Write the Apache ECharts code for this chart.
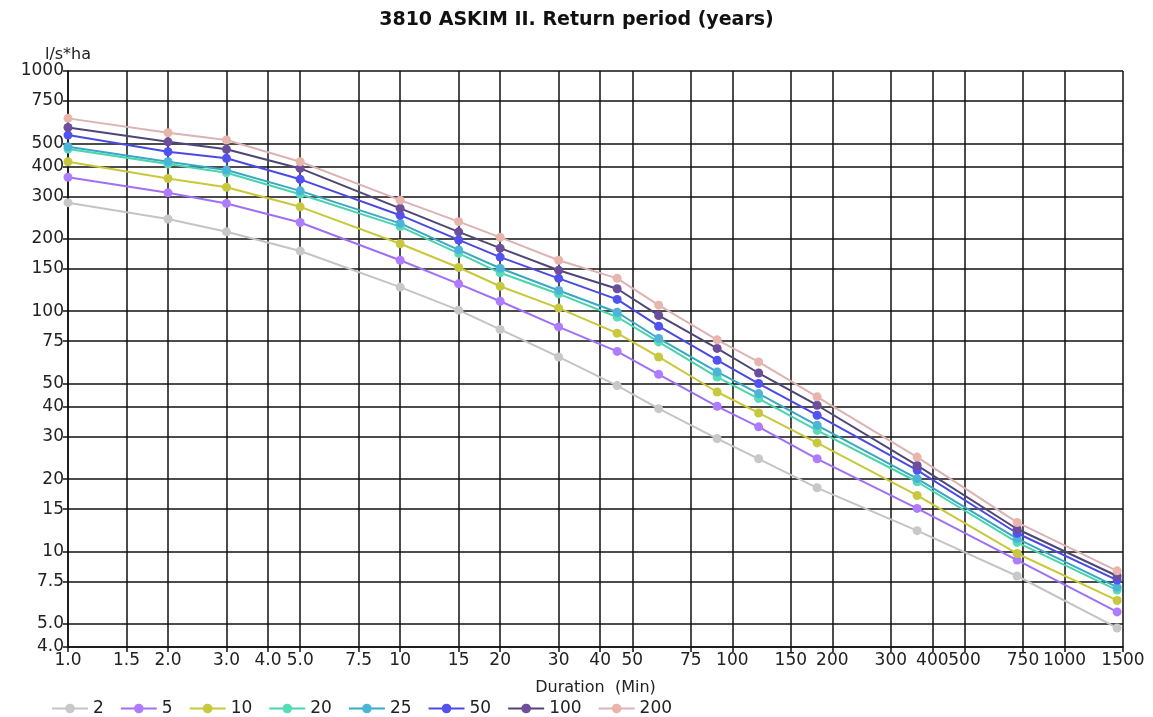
<!DOCTYPE html>
<html>
<head>
<meta charset="utf-8">
<script src="https://cdn.jsdelivr.net/npm/echarts@6/dist/echarts.min.js"></script>
<style>
html,body{margin:0;padding:0;background:#fff;}
#c{width:1153px;height:717px;}
</style>
</head>
<body>
<div id="c"></div>
<script>
// ---- data ----
const durations = [1, 2, 3, 5, 10, 15, 20, 30, 45, 60, 90, 120, 180, 360, 720, 1440];
const returnPeriods = ['2', '5', '10', '20', '25', '50', '100', '200'];
const rp2   = [283, 242, 214, 178, 126, 101, 84, 64.5, 49, 39.3, 29.5, 24.3, 18.4, 12.2, 7.9, 4.8];
const rp5   = [361, 311, 281, 234, 163, 130, 110, 86, 68, 54.6, 40.2, 33, 24.3, 15.1, 9.2, 5.6];
const rp10  = [419, 357, 328, 272, 191, 152, 127, 103, 81, 64.5, 46.1, 37.7, 28.3, 17.1, 9.8, 6.25];
const rp20  = [473, 410, 377, 307, 225, 174, 144.5, 118, 94.6, 74.5, 53.2, 43.3, 31.9, 19.5, 10.9, 6.9];
const rp25  = [484, 419, 387, 317, 232, 180, 151, 122, 99, 77, 55.9, 45.4, 33.5, 20.1, 11.3, 7.1];
const rp50  = [541, 461, 433, 354, 251, 198, 168, 137, 112, 86.6, 62.5, 50, 36.9, 21.8, 11.9, 7.6];
const rp100 = [582, 507, 472, 393, 268, 214, 183, 148, 124, 96, 70, 55.3, 40.6, 22.8, 12.4, 7.9];
const rp200 = [635, 553, 516, 419, 290, 236, 203, 163, 137, 106, 76, 61.5, 44, 24.7, 13.2, 8.3];
const xTicks = [1, 1.5, 2, 3, 4, 5, 7.5, 10, 15, 20, 30, 40, 50, 75, 100, 150, 200, 300, 400, 500, 750, 1000, 1500];
const yTicks = [4, 5, 7.5, 10, 15, 20, 30, 40, 50, 75, 100, 150, 200, 300, 400, 500, 750, 1000];

// ---- styling ----
const seriesValues = [rp2, rp5, rp10, rp20, rp25, rp50, rp100, rp200];
const lineColors   = ['#c4c4c4', '#a070f4', '#c8c83a', '#48d4ac', '#38a8c4', '#4a4ae2', '#4e4678', '#dcb2b4'];
const markerColors = ['#c8c8c8', '#b07cff', '#c8c840', '#58dcb8', '#4cb4d8', '#5252f0', '#6c4e9c', '#e8b4ac'];
const FONT = 'DejaVu Sans';
const lg = Math.log10;

function fmt(v) {
  const r = Math.round(Math.pow(10, v) * 100) / 100;
  return r < 10 ? r.toFixed(1) : String(Math.round(r));
}

const series = seriesValues.map((vals, i) => ({
  name: returnPeriods[i],
  type: 'line',
  data: durations.map((d, j) => [lg(d), lg(vals[j])]),
  symbol: 'circle',
  symbolSize: 9,
  color: lineColors[i],
  lineStyle: { color: lineColors[i], width: 2 },
  itemStyle: { color: markerColors[i] },
  emphasis: { disabled: true },
  animation: false
}));

const chart = echarts.init(document.getElementById('c'));
chart.setOption({
  animation: false,
  backgroundColor: '#ffffff',
  title: {
    text: '3810 ASKIM II. Return period (years)',
    left: 'center', top: 6,
    textStyle: { fontFamily: FONT, fontSize: 19, fontWeight: 'bold', color: '#111' }
  },
  grid: { left: 68, right: 30, top: 71, bottom: 70 },
  legend: {
    show: true,
    data: returnPeriods,
    left: 46, top: 695,
    itemWidth: 36, itemHeight: 12, itemGap: 16,
    textStyle: { fontFamily: FONT, fontSize: 17, color: '#222' }
  },
  xAxis: {
    type: 'value',
    min: lg(1), max: lg(1500),
    name: 'Duration  (Min)',
    nameLocation: 'middle', nameGap: 33,
    nameTextStyle: { fontFamily: FONT, fontSize: 16, color: '#222' },
    axisLine: { show: true, lineStyle: { color: '#111', width: 1.5 } },
    axisTick: { show: true, length: 5, customValues: xTicks.map(lg), lineStyle: { color: '#111', width: 1.5 } },
    axisLabel: { customValues: xTicks.map(lg), formatter: fmt, fontFamily: FONT, fontSize: 17, color: '#222', margin: 5 },
    splitLine: { show: true, lineStyle: { color: '#111', width: 1.5 } }
  },
  yAxis: {
    type: 'value',
    min: lg(4), max: lg(1000),
    name: 'l/s*ha',
    nameLocation: 'end', nameGap: 7,
    nameTextStyle: { fontFamily: FONT, fontSize: 16, color: '#222' },
    axisLine: { show: true, lineStyle: { color: '#111', width: 1.5 } },
    axisTick: { show: true, length: 5, customValues: yTicks.map(lg), lineStyle: { color: '#111', width: 1.5 } },
    axisLabel: { customValues: yTicks.map(lg), formatter: fmt, fontFamily: FONT, fontSize: 17, color: '#222', margin: 4 },
    splitLine: { show: true, lineStyle: { color: '#111', width: 1.5 } }
  },
  series: series
});
</script>
</body>
</html>
